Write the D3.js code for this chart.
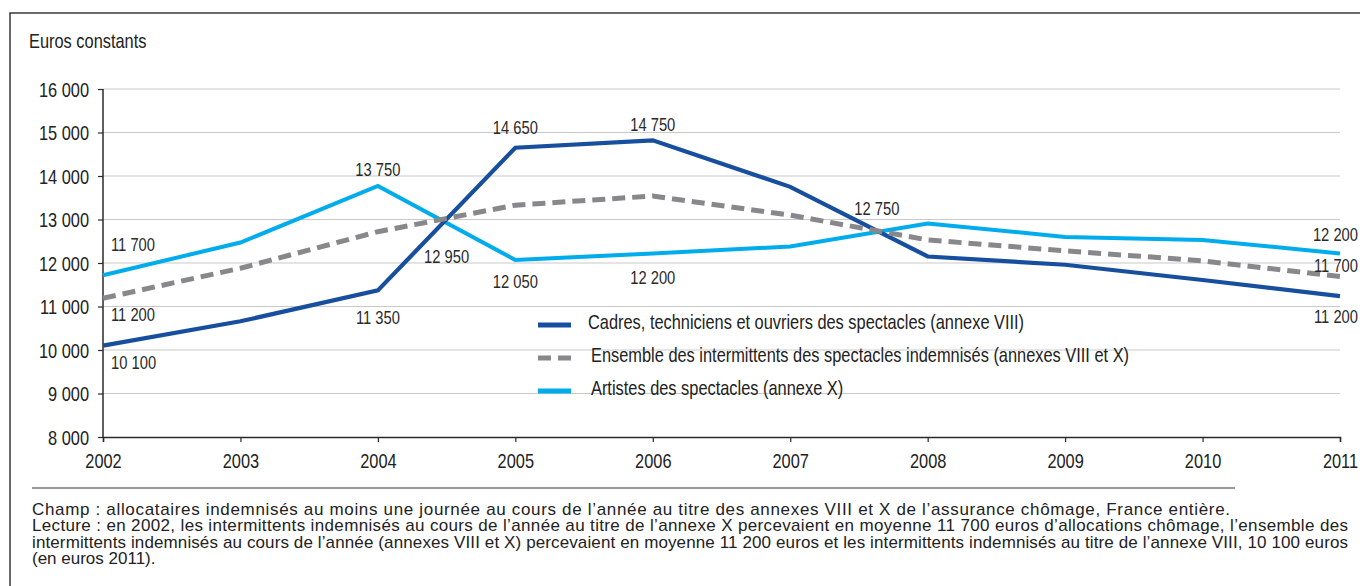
<!DOCTYPE html>
<html>
<head>
<meta charset="utf-8">
<script src="https://cdn.jsdelivr.net/npm/d3@7"></script>
<style>
  body { margin: 0; background: #fff; }
  svg { display: block; }
</style>
</head>
<body>
<script>
const width = 1360;
const height = 586;
const margin = { l: 103, r: 20, t: 89, b: 149 };
const sans = "'Liberation Sans', Arial, Helvetica, sans-serif";
// the original uses a condensed Helvetica: squeeze Liberation Sans like Arial Narrow
const squeeze = 0.82;

// data
const years = [2002, 2003, 2004, 2005, 2006, 2007, 2008, 2009, 2010, 2011];
const cadres = [10100, 10660, 11370, 14650, 14820, 13750, 12150, 11960, 11610, 11240];
const ensemble = [11190, 11880, 12720, 13330, 13540, 13100, 12530, 12280, 12050, 11690];
const artistes = [11720, 12470, 13770, 12070, 12220, 12380, 12910, 12600, 12530, 12220];
const seriesNames = [
  "Cadres, techniciens et ouvriers des spectacles (annexe VIII)",
  "Ensemble des intermittents des spectacles indemnisés (annexes VIII et X)",
  "Artistes des spectacles (annexe X)",
];
const yTicks = [8000, 9000, 10000, 11000, 12000, 13000, 14000, 15000, 16000];

// value labels as printed on the chart
const labelYears = [2002, 2002, 2002, 2004, 2004, 2004.5, 2005, 2005, 2006, 2006, 2007.63, 2011, 2011, 2011];
const labelValues = [11700, 11200, 10100, 13750, 11350, 12950, 14650, 12050, 14750, 12200, 12750, 12200, 11700, 11200];

const footerLines = [
  "Champ : allocataires indemnisés au moins une journée au cours de l’année au titre des annexes VIII et X de l’assurance chômage, France entière.",
  "Lecture : en 2002, les intermittents indemnisés au cours de l’année au titre de l’annexe X percevaient en moyenne 11 700 euros d’allocations chômage, l’ensemble des",
  "intermittents indemnisés au cours de l’année (annexes VIII et X) percevaient en moyenne 11 200 euros et les intermittents indemnisés au titre de l’annexe VIII, 10 100 euros",
  "(en euros 2011).",
];

const colors = { cadres: "#174f9e", ensemble: "#87888b", artistes: "#00acec" };
const fmt = (v) => d3.format(",")(v).replace(",", " ");

// scale text horizontally around its own x position
const narrowText = (sel) =>
  sel.each(function () {
    const t = d3.select(this);
    const x0 = +t.attr("x") || 0;
    t.attr("x", x0 / squeeze)
      .attr("transform", `scale(${squeeze},1)`)
      .style("font-family", sans);
  });

const svg = d3
  .select("body")
  .append("svg")
  .attr("width", width)
  .attr("height", height);

const x = d3.scaleLinear().domain([2002, 2011]).range([margin.l, width - margin.r]);
const y = d3.scaleLinear().domain([8000, 16000]).range([height - margin.b, margin.t]);

// frame
svg.append("path")
  .attr("d", `M10,${height}V13H${width}`)
  .attr("fill", "none")
  .attr("stroke", "#3a3a3a")
  .attr("stroke-width", 1.5);

svg.append("text")
  .attr("x", 29)
  .attr("y", 48)
  .style("font-size", "20px")
  .attr("fill", "#222")
  .text("Euros constants")
  .call(narrowText);

// grid
svg.append("g")
  .selectAll("line")
  .data(yTicks.filter((d) => d > 8000))
  .join("line")
  .attr("x1", x(2002))
  .attr("x2", x(2011))
  .attr("y1", (d) => y(d))
  .attr("y2", (d) => y(d))
  .attr("stroke", "#c9c9cb")
  .attr("stroke-width", 1.2);

// axes
const yAxis = svg.append("g")
  .attr("transform", `translate(${x(2002)},0)`)
  .call(d3.axisLeft(y).tickValues(yTicks).tickSize(5).tickPadding(9).tickFormat(fmt));
const xAxis = svg.append("g")
  .attr("transform", `translate(0,${y(8000)})`)
  .call(d3.axisBottom(x).tickValues(years).tickSize(5).tickPadding(12).tickFormat(d3.format("d")));
[yAxis, xAxis].forEach((g) => {
  g.select(".domain").attr("stroke", "#2a2a2a").attr("stroke-width", 1.5);
  g.selectAll(".tick line").attr("stroke", "#2a2a2a").attr("stroke-width", 1.2);
  g.selectAll("text")
    .style("font-size", "20px")
    .attr("fill", "#222")
    .call(narrowText);
});
yAxis.select(".domain").attr("d", `M0,${y(16000)}V${y(8000)}`);
yAxis.selectAll("text").attr("dy", "0.36em");

// lines
const line = d3.line().x((d, i) => x(years[i])).y((d) => y(d));
const series = [
  { key: "artistes", values: artistes, dash: null, w: 4 },
  { key: "cadres", values: cadres, dash: null, w: 4.2 },
  { key: "ensemble", values: ensemble, dash: "13,7", w: 5 },
];
svg.append("g")
  .selectAll("path")
  .data(series)
  .join("path")
  .attr("d", (d) => line(d.values))
  .attr("fill", "none")
  .attr("stroke", (d) => colors[d.key])
  .attr("stroke-width", (d) => d.w)
  .attr("stroke-dasharray", (d) => d.dash)
  .attr("stroke-linejoin", "miter");

// value labels: offset from the printed value, and anchor
const labelDy = [-31, 17, 17, -17, 26, 35, -20, 21, -19, 23, -22, -20, -10, 19];
const labelAnchor = (yr) => (yr === 2002 ? "start" : yr === 2011 ? "end" : "middle");
const labelDx = (yr) => (yr === 2002 ? 8 : yr === 2011 ? 18 : 0);
svg.append("g")
  .selectAll("text")
  .data(labelValues)
  .join("text")
  .attr("x", (d, i) => x(labelYears[i]) + labelDx(labelYears[i]))
  .attr("y", (d, i) => y(d) + labelDy[i])
  .attr("text-anchor", (d, i) => labelAnchor(labelYears[i]))
  .attr("dy", "0.35em")
  .style("font-size", "18px")
  .attr("fill", "#2a2a2a")
  .text((d) => fmt(d))
  .call(narrowText);

// legend
const legend = svg.append("g").attr("transform", "translate(538,322)");
const legendItems = [
  { key: "cadres", dash: null, tx: 50 },
  { key: "ensemble", dash: "13,7", tx: 53 },
  { key: "artistes", dash: null, tx: 53 },
];
legendItems.forEach((item, i) => {
  const row = legend.append("g").attr("transform", `translate(0,${i * 33})`);
  row.append("line")
    .attr("x1", 0)
    .attr("x2", 33)
    .attr("y1", 3)
    .attr("y2", 3)
    .attr("stroke", colors[item.key])
    .attr("stroke-width", 5)
    .attr("stroke-dasharray", item.dash);
  row.append("text")
    .attr("x", item.tx)
    .attr("y", 0)
    .attr("dy", "0.36em")
    .style("font-size", "20px")
    .attr("fill", "#222")
    .text(seriesNames[i])
    .call(narrowText);
});

// footer
svg.append("line")
  .attr("x1", 32)
  .attr("x2", 1235)
  .attr("y1", 488)
  .attr("y2", 488)
  .attr("stroke", "#333")
  .attr("stroke-width", 1.2);

// widths of the printed lines (the last one is left as is)
const footerWidths = [1198, 1316, 1316, null];
svg.append("g")
  .selectAll("text")
  .data(footerLines)
  .join("text")
  .attr("x", 32)
  .attr("y", (d, i) => 515 + i * 16.3)
  .style("font-family", sans)
  .style("font-size", "17px")
  .attr("fill", "#222")
  .attr("textLength", (d, i) => footerWidths[i])
  .attr("lengthAdjust", "spacing")
  .text((d) => d);
</script>
</body>
</html>
